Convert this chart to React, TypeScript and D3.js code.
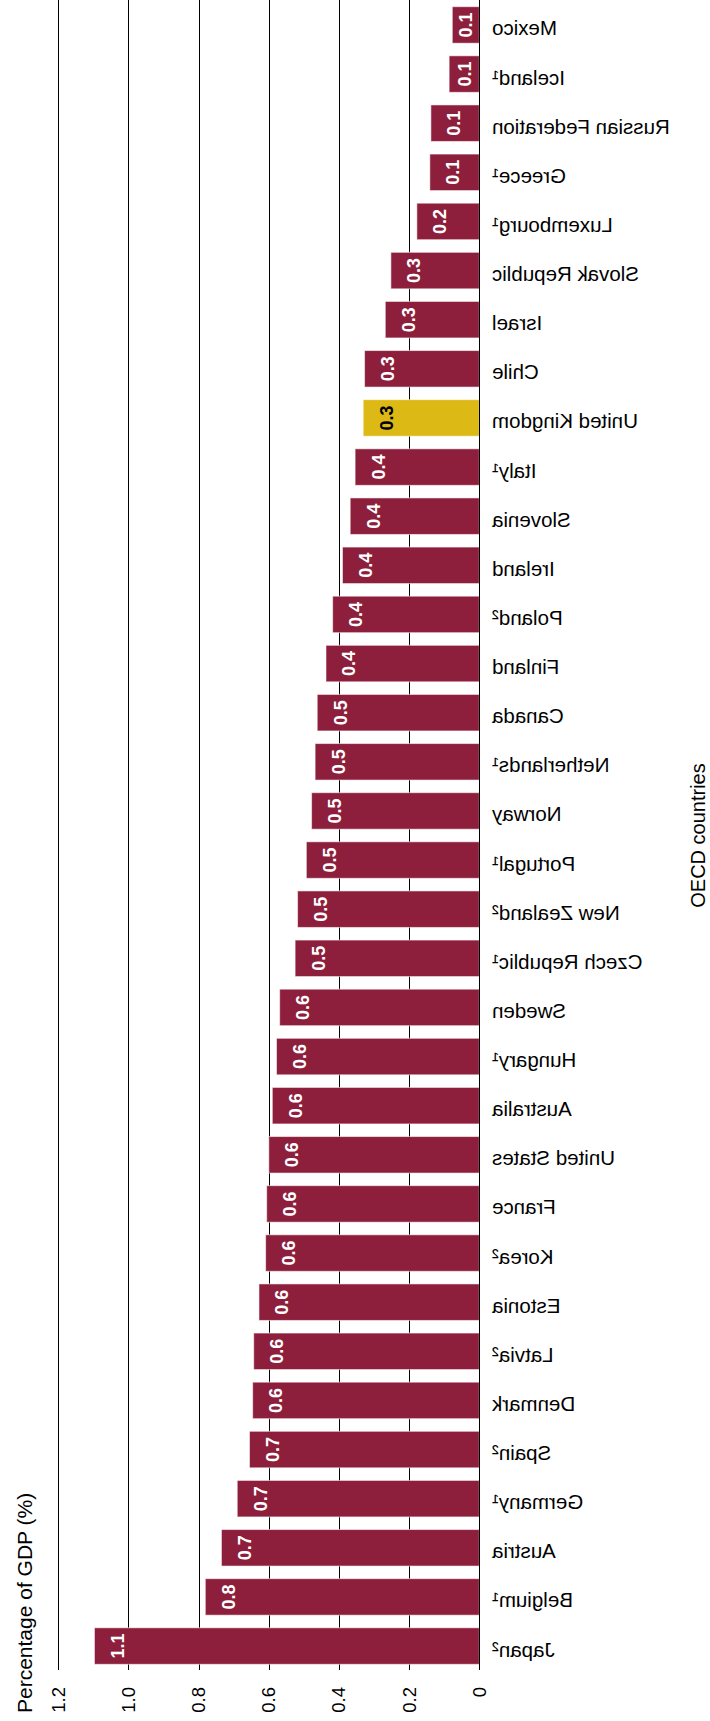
import React from 'react';
import * as d3 from 'd3';

const countries = [
  "Japan²", "Belgium¹", "Austria", "Germany¹", "Spain²", "Denmark", "Latvia²", "Estonia",
  "Korea²", "France", "United States", "Australia", "Hungary¹", "Sweden", "Czech Republic¹",
  "New Zealand²", "Portugal¹", "Norway", "Netherlands¹", "Canada", "Finland", "Poland²",
  "Ireland", "Slovenia", "Italy¹", "United Kingdom", "Chile", "Israel", "Slovak Republic",
  "Luxembourg¹", "Greece¹", "Russian Federation", "Iceland¹", "Mexico",
];
const values = [
  1.097, 0.781, 0.735, 0.69, 0.655, 0.646, 0.643, 0.628,
  0.609, 0.606, 0.6, 0.59, 0.578, 0.569, 0.525,
  0.518, 0.493, 0.478, 0.468, 0.462, 0.437, 0.418,
  0.39, 0.368, 0.354, 0.331, 0.327, 0.268, 0.252,
  0.178, 0.141, 0.138, 0.086, 0.077,
];
const highlight = "United Kingdom";
const tickValues = [0, 0.2, 0.4, 0.6, 0.8, 1.0, 1.2];
const valueTitle = "Percentage of GDP (%)";
const categoryTitle = "OECD countries";

const W = 710;
const H = 1721;
const FONT = "'Liberation Sans', Arial, Helvetica, sans-serif";
const MAROON = "#8d1f3d";
const GOLD = "#dcb914";

export default function App() {
  const data = countries.map((c, i) => ({ country: c, value: values[i] }));
  const x = d3.scaleLinear().domain([0, 1.2]).range([479.3, 58.3]);
  const y = d3
    .scaleBand<string>()
    .domain([...countries].reverse())
    .range([6.7, 1664.3])
    .paddingInner(0.257)
    .paddingOuter(0);
  const fmt = d3.format(".1f");
  const gridBottom = 1670;
  const crisp = (v: number) => Math.round(v) + 0.5;
  const x0 = x(0);
  const [r0, r1] = y.range();

  return (
    <svg
      width={W}
      height={H}
      viewBox={`0 0 ${W} ${H}`}
      style={{ position: 'absolute', left: 0, top: 0, background: '#fff' }}
      fontFamily={FONT}
    >
      <rect x={0} y={0} width={W} height={H} fill="#fff" />
      {tickValues.filter((t) => t !== 0).map((t) => (
        <line
          key={`g${t}`}
          x1={crisp(x(t))}
          x2={crisp(x(t))}
          y1={0}
          y2={gridBottom}
          stroke="#000"
          strokeWidth={1}
        />
      ))}
      {data.map((d) => {
        const by = y(d.country)!;
        const bw = y.bandwidth();
        const xl = x(d.value);
        const isHi = d.country === highlight;
        const baseX = Math.min(xl + 29.5, (xl + x0) / 2 + 6.5);
        return (
          <g key={d.country}>
            <rect
              x={xl}
              y={by}
              width={x0 - xl}
              height={bw}
              fill={isHi ? GOLD : MAROON}
              stroke="rgba(255,255,255,0.55)"
              strokeWidth={1}
            />
            <text
              transform={`translate(${baseX},${by + bw / 2}) rotate(-90)`}
              textAnchor="middle"
              fontSize={18}
              fontWeight="bold"
              fill={isHi ? '#000' : '#fff'}
            >
              {fmt(d.value)}
            </text>
            <text
              transform={`translate(492,${by + bw / 2 + 10.5}) scale(-1,1)`}
              textAnchor="end"
              fontSize={20.5}
              fill="#000"
            >
              {d.country}
            </text>
          </g>
        );
      })}
      <line x1={crisp(x0)} x2={crisp(x0)} y1={0} y2={gridBottom} stroke="#000" strokeWidth={1} />
      {tickValues.map((t) => (
        <text
          key={`t${t}`}
          transform={`translate(${x(t)},1687) rotate(-90)`}
          textAnchor="end"
          dy="0.35em"
          fontSize={18.5}
          fill="#000"
        >
          {t === 0 ? '0' : d3.format(".1f")(t)}
        </text>
      ))}
      <text
        transform={`translate(31.7,1713) rotate(-90)`}
        textAnchor="start"
        fontSize={21}
        fill="#000"
      >
        {valueTitle}
      </text>
      <text
        transform={`translate(704.5,${(r0 + r1) / 2}) rotate(-90)`}
        textAnchor="middle"
        fontSize={20}
        fill="#000"
      >
        {categoryTitle}
      </text>
    </svg>
  );
}
